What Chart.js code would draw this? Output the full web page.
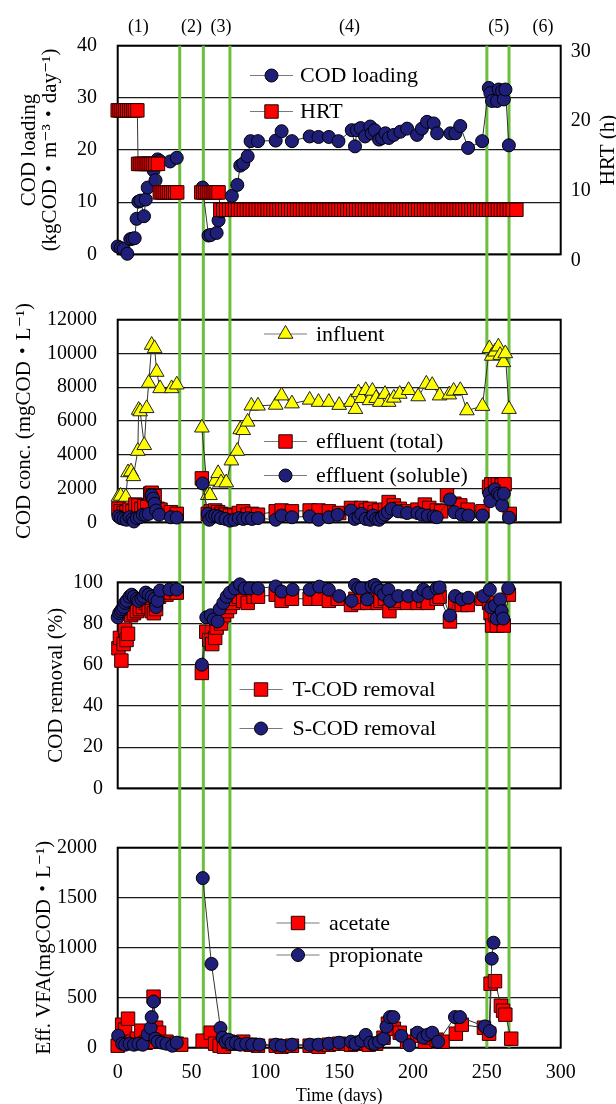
<!DOCTYPE html>
<html><head><meta charset="utf-8">
<script src="https://cdn.jsdelivr.net/npm/chart.js@4.4.1/dist/chart.umd.min.js"></script>
<style>
html,body{margin:0;padding:0;background:#fff;width:616px;height:1104px;overflow:hidden}
.panel{position:absolute;left:0;width:616px}
canvas{display:block}
</style></head><body>
<div class="panel" style="top:0px;height:287px"><canvas id="c1" width="616" height="287"></canvas></div>
<div class="panel" style="top:287px;height:268px"><canvas id="c2" width="616" height="268"></canvas></div>
<div class="panel" style="top:555px;height:260px"><canvas id="c3" width="616" height="260"></canvas></div>
<div class="panel" style="top:815px;height:289px"><canvas id="c4" width="616" height="289"></canvas></div>
<script>
// ---------------- DATA ----------------
const phaseBoundaryDays = [42, 58, 76, 250, 265];
const phaseLabels = ['(1)', '(2)', '(3)', '(4)', '(5)', '(6)'];
const phaseLabelDays = [14, 50, 70, 157, 258, 288];
const dayTicks = [0, 50, 100, 150, 200, 250, 300];
const loadTicks = [0, 10, 20, 30, 40];
const hrtTicks = [0, 10, 20, 30];
const concTicks = [0, 2000, 4000, 6000, 8000, 10000, 12000];
const removalTicks = [0, 20, 40, 60, 80, 100];
const vfaTicks = [0, 500, 1000, 1500, 2000];

// [day, COD loading kgCOD/m3/day]
const codLoading = [
 [0,1.5],[2,1.2],[4,1.0],[6.5,0.1],[8.5,2.9],[10,3.0],[11.5,3.1],[12.8,6.8],[14,10.1],[15.5,10.3],[17.8,7.3],[19,10.5],[20.3,12.8],[24.3,16.1],[25.6,14.2],[27,18.2],[28.5,17.9],[35.5,17.8],[40,18.5],
 [49,null],
 [57.5,12.8],[61.5,3.6],[63,3.7],[67,4.1],[68.3,6.5],[70,8.3],[77.3,11.2],[81,13.3],[83,17.0],[85,17.4],[88,18.8],[90,21.7],[95,21.7],
 [107,21.8],[111,23.6],[118,21.7],[130,22.6],[136,22.5],[143,22.5],[149.5,21.7],[158.5,23.8],[160.7,20.7],[162,23.8],[164.5,24.2],[167.5,22.6],[171,24.5],[172,23.2],[174,23.8],[177,22.0],[179,22.3],[181.3,23.2],[183.6,22.3],[187,22.9],[191.4,23.5],[196,24.1],[202.7,22.9],[206,24.1],[209.5,25.4],[214,25.1],[216.3,23.2],[225.3,23.2],[228.7,23.2],[232,24.6],[237.3,20.4],[246.8,21.7],
 [251.3,31.9],[252.4,30.9],[253.5,29.4],[256.9,29.4],[258,31.6],[260.3,31.3],[261.5,29.7],[262.6,31.6],[264.9,20.9]
];
// [day, HRT h]
const hrt = [
 [0,20.7],[1.3,20.7],[2.6,20.7],[3.9,20.7],[5.2,20.7],[6.5,20.7],[7.8,20.7],[9.1,20.7],[10.4,20.7],[11.7,20.7],[13.3,20.7],
 [13.8,13.0],[15.1,13.0],[16.4,13.0],[17.7,13.0],[19,13.0],[20.3,13.0],[21.6,13.0],[22.9,13.0],[24.2,13.0],[25.5,13.0],[27.3,13.0],
 [28.5,8.9],[29.8,8.9],[31.1,8.9],[32.4,8.9],[33.7,8.9],[35,8.9],[36.3,8.9],[37.6,8.9],[38.9,8.9],[40.3,8.9],
 [48,null],
 [56.6,8.9],[57.9,8.9],[59.2,8.9],[60.5,8.9],[61.8,8.9],[63.1,8.9],[64.4,8.9],[65.7,8.9],[67,8.9],[68.3,8.9],
 [69.5,6.4],[71.5,6.4],[73.5,6.4],[75.5,6.4],[77.5,6.4],[79.5,6.4],[81.5,6.4],[83.5,6.4],[85.5,6.4],[87.5,6.4],[89.5,6.4],[91.5,6.4],[93.5,6.4],[95.5,6.4],[97.5,6.4],[99.5,6.4],[101.5,6.4],[103.5,6.4],[105.5,6.4],[107.5,6.4],[109.5,6.4],[111.5,6.4],[113.5,6.4],[115.5,6.4],[117.5,6.4],[119.5,6.4],[121.5,6.4],[123.5,6.4],[125.5,6.4],[127.5,6.4],[129.5,6.4],[131.5,6.4],[133.5,6.4],[135.5,6.4],[137.5,6.4],[139.5,6.4],[141.5,6.4],[143.5,6.4],[145.5,6.4],[147.5,6.4],[149.5,6.4],[151.5,6.4],[153.5,6.4],[155.5,6.4],[157.5,6.4],[159.5,6.4],[161.5,6.4],[163.5,6.4],[165.5,6.4],[167.5,6.4],[169.5,6.4],[171.5,6.4],[173.5,6.4],[175.5,6.4],[177.5,6.4],[179.5,6.4],[181.5,6.4],[183.5,6.4],[185.5,6.4],[187.5,6.4],[189.5,6.4],[191.5,6.4],[193.5,6.4],[195.5,6.4],[197.5,6.4],[199.5,6.4],[201.5,6.4],[203.5,6.4],[205.5,6.4],[207.5,6.4],[209.5,6.4],[211.5,6.4],[213.5,6.4],[215.5,6.4],[217.5,6.4],[219.5,6.4],[221.5,6.4],[223.5,6.4],[225.5,6.4],[227.5,6.4],[229.5,6.4],[231.5,6.4],[233.5,6.4],[235.5,6.4],[237.5,6.4],[239.5,6.4],[241.5,6.4],[243.5,6.4],[245.5,6.4],[247.5,6.4],[249.5,6.4],[251.5,6.4],[253.5,6.4],[255.5,6.4],[257.5,6.4],[259.5,6.4],[261.5,6.4],[263.5,6.4],[265.5,6.4],[267.5,6.4],[270,6.4]
];
// [day, mgCOD/L]
const influent = [
 [0.5,1500],[2,1560],[5.5,1500],[7,2950],[9,3000],[10.6,2720],[13.6,4220],[14.2,6650],[15.2,6560],[18,4560],[19.6,6750],[21,8250],[23,10500],[25,10300],[26.4,8900],[28.7,7930],[36.5,7930],[40,8150],
 [49,null],
 [57,5600],[61,1600],[62.5,1600],[66,2450],[68,2900],[70,2350],[73.5,2350],[77,3650],[81,4220],[83,5500],[85,5450],[88,5950],[90.5,6900],[95,6900],
 [107,6950],[111,7500],[118,7030],[130,7250],[136,7120],[143,7120],[150,6940],[158,7120],[161,6700],[163,7690],[165,7350],[168,7820],[170.5,7220],[172.5,7780],[175,7350],[177.5,7120],[181,7590],[183.5,7120],[187,7370],[191,7600],[197,7820],[203.5,7450],[209,8200],[213,8120],[218,7500],[224.5,7560],[227.5,7780],[232,7820],[236.5,6620],[247,6880],
 [251.7,10300],[253.3,9850],[255.5,10100],[257.8,10400],[259,9900],[261.2,9470],[262.5,10000],[265,6700]
];
const effluentTotal = [
 [0.5,800],[2,650],[4,550],[6,600],[8,750],[10,650],[12,1050],[14,1000],[16,800],[18,950],[20,900],[22,1700],[23,1750],[24,1600],[25,1550],[27,800],[29,750],[36,600],[40,500],
 [49,null],
 [57,2600],[61,500],[63,650],[66,700],[68,600],[70,500],[73,450],[76,400],[79,400],[82,550],[85,650],[88,450],[91,500],[95,450],
 [107,650],[111,700],[118,650],[130,700],[136,700],[143,650],[150,550],[158,850],[161,600],[165,850],[168,700],[171,800],[174,600],[177,700],[181,750],[183.5,1200],[187,1000],[191,800],[196,650],[203,750],[208,1050],[211,850],[216,700],[219,650],[223,1600],[228,1100],[232,1000],[237,750],[247,650],
 [251.5,2100],[253,2250],[255.5,2250],[257.5,2250],[260,2200],[262,2250],[265.5,500]
];
const effluentSoluble = [
 [0.5,350],[2,250],[4,200],[6,150],[8,300],[10,180],[11,50],[13,250],[15,300],[17,450],[19,440],[21,500],[23,1600],[24,1400],[25,1100],[26,700],[28,450],[36,300],[40,280],
 [49,null],
 [57.5,2300],[61,500],[62,150],[64,350],[66,400],[68,350],[70,250],[73,200],[76,100],[79,150],[82,250],[85,200],[88,250],[91,200],[95,250],
 [107,150],[111,400],[118,300],[130,350],[136,150],[143,300],[149,450],[158,700],[160.5,200],[163,300],[165,500],[168,200],[171,150],[173,400],[175,200],[177,150],[179,300],[181,450],[183,600],[185.5,800],[190,650],[196,550],[203,550],[206,450],[210,400],[214,350],[216,300],[225,1350],[228,600],[233,450],[237.5,400],[247,400],
 [251.7,1700],[252.3,1250],[255.5,1950],[257.5,1700],[259,1600],[260.3,1000],[261.5,1700],[265,280]
];
// [day, %]
const tcodRemoval = [
 [0.5,68],[1.5,73],[2.5,62],[4,70],[5,77],[6,72],[7,75],[9,84],[11,85],[13,86],[15,87],[17,88],[19,90],[21,88],[23,86],[24.5,85],[26,87],[28,93],[33,94],[36,95],[40,95],
 [49,null],
 [57,56],[60,76],[62,72],[64,70],[66,73],[67,78],[70,80],[72,84],[74,86],[76,88],[78,90],[80,92],[82,93],[85,91],[88,90],[92,93],[95,93],
 [107,94],[111,91],[118,92],[130,92],[136,92],[143,91],[149,92],[158,89],[161,92],[163,90],[165,93],[169,90],[172,93],[174,92],[176,90],[178,91],[181,92],[184,86],[188,90],[191,91],[196,90],[203,90],[207,91],[210,90],[216,92],[218,93],[225,81],[228.5,90],[233,89],[237,89],[247,92],
 [251.5,90],[252.5,85],[253.5,79],[255.5,84],[256.8,79],[258.5,86],[261.4,79],[264.9,94]
];
const scodRemoval = [
 [0,83],[1,85],[2,86],[3,87],[4,88],[5,90],[6,91],[8,93],[9.5,94],[11,93],[13,92],[14,91],[16,92],[17.5,93],[19,95],[21,94],[23,93],[25,92],[26,88],[27,91],[28.7,96],[35,96.5],[40,96.5],
 [49,null],
 [57,60],[60,83],[63,84],[65,82],[67.7,81],[69,87],[71.5,90],[73.8,93],[76,95],[79.4,97],[82.8,99],[86,97],[89.5,97],[95,97],
 [107,98],[111,95.5],[118.5,96.4],[130,96.4],[136.5,97.9],[143,96.4],[150,93.3],[158.4,91],[160.7,98.7],[162.9,97.1],[165,97],[169,91.7],[171.9,97.9],[174.2,98.7],[175.8,97.1],[178,96],[180.3,94],[183.3,96.4],[184.4,91],[190,93.3],[196.8,93.3],[203.6,93.3],[207,96.4],[210.4,94.8],[216,97.1],[218,97.5],[225,83.9],[228.5,93.3],[233,91.7],[237.5,92.5],[247.6,93.3],
 [252,96.4],[252.8,87.8],[255.5,88.7],[256.5,82.4],[258.9,91.7],[260,86],[261.1,82.4],[264.5,97.1]
];
// [day, mgCOD/L]
const acetate = [
 [0,20],[3,230],[5,180],[7,290],[10,60],[13,90],[16,170],[19,50],[22,60],[24.3,510],[26,200],[28,150],[33,60],[40,40],[43,30],
 [50,null],
 [57.5,70],[63,150],[66,40],[69,20],[72,10],[75,60],[78,40],[81,50],[85,60],[90,30],[95,20],
 [107,20],[111,10],[118,20],[130,20],[136,10],[143,30],[150,40],[158,30],[161,40],[165,50],[170,30],[175,40],[180,100],[183,240],[187,190],[191,150],[196,60],[203,120],[208,60],[212,100],[216,80],[220,60],[229,140],[233,230],[248,200],[251.5,140],
 [252.5,640],[255.5,665],[259.5,420],[261,370],[262.5,330],[266.5,90]
];
const propionate = [
 [0.3,120],[3,40],[5,30],[8,40],[11,30],[14,40],[17,30],[20.3,134],[22.3,197],[23,306],[24.3,462],[25.6,90],[27,60],[30,50],[33,40],[37,20],[40,50],
 [50,null],
 [57.6,1696],[63.5,838],[69.6,197],[71,100],[73,60],[75,80],[77,40],[80,50],[83,30],[87,40],[91,30],[96,30],
 [107,30],[111,20],[118,30],[130,30],[136,30],[143,40],[150,50],[158,60],[161,40],[165,70],[168,128],[171,50],[174,40],[177,60],[180,90],[182,210],[184.4,306],[186.7,306],[192,119],[197.5,25],[203,150],[207,100],[210,130],[213,150],[217,60],[228.4,306],[231.8,306],[248.6,213],[252,166],
 [253.3,890],[254.5,1050]
];

// ---------------- STYLE / HELPERS ----------------
const FONT = "'Liberation Serif','DejaVu Serif','Noto Sans CJK JP',serif";
Chart.defaults.font.family = FONT;
Chart.defaults.color = '#000';

const MARKERS = {
  circle:   {pointStyle: 'circle',   pointRadius: 6.5, pointBackgroundColor: '#1f1f7a', pointBorderColor: '#000', pointBorderWidth: 1},
  square:   {pointStyle: 'rect',     pointRadius: 9.5, pointBackgroundColor: '#ff0000', pointBorderColor: '#2a0000', pointBorderWidth: 1},
  triangle: {pointStyle: 'triangle', pointRadius: 8.5, pointBackgroundColor: '#ffff00', pointBorderColor: '#222', pointBorderWidth: 1}
};
function series(label, pairs, marker, yAxisID, order) {
  return Object.assign({
    label: label,
    data: pairs.map(p => ({x: p[0], y: p[1]})),
    showLine: true, spanGaps: false, clip: false,
    borderColor: '#333', borderWidth: 1,
    yAxisID: yAxisID || 'y', order: order || 0,
    pointHoverRadius: 0
  }, MARKERS[marker]);
}

function drawMarker(ctx, ds, x, y) {
  const r = ds.pointRadius;
  ctx.fillStyle = ds.pointBackgroundColor;
  ctx.strokeStyle = ds.pointBorderColor;
  ctx.lineWidth = ds.pointBorderWidth;
  ctx.beginPath();
  if (ds.pointStyle === 'circle') {
    ctx.arc(x, y, r, 0, Math.PI * 2);
  } else if (ds.pointStyle === 'rect') {
    const s = r * Math.SQRT1_2;
    ctx.rect(x - s, y - s, 2 * s, 2 * s);
  } else {
    ctx.moveTo(x, y - r);
    ctx.lineTo(x + r * 0.866, y + r * 0.5);
    ctx.lineTo(x - r * 0.866, y + r * 0.5);
    ctx.closePath();
  }
  ctx.fill();
  ctx.stroke();
}

const decor = {
  id: 'decor',
  beforeDatasetsDraw(chart, args, o) {
    const ctx = chart.ctx, a = chart.chartArea, x = chart.scales.x;
    ctx.save();
    ctx.strokeStyle = '#000';
    ctx.lineWidth = 2;
    ctx.strokeRect(a.left, a.top, a.right - a.left, a.bottom - a.top);
    const top = o.linesFromArea ? a.top : 0;
    const bottom = o.linesToArea ? a.bottom : chart.height;
    ctx.strokeStyle = '#6cbf3c';
    ctx.lineWidth = 3;
    phaseBoundaryDays.forEach(d => {
      const px = x.getPixelForValue(d);
      ctx.beginPath(); ctx.moveTo(px, top); ctx.lineTo(px, bottom); ctx.stroke();
    });
    ctx.restore();
  },
  afterDraw(chart, args, o) {
    const ctx = chart.ctx, x = chart.scales.x;
    ctx.save();
    const items = o.legend || [];
    for (let i = 0; i < items.length; i++) {
      const it = items[i];
      const ds = chart.data.datasets[it.dataset];
      ctx.strokeStyle = '#7a7a7a';
      ctx.lineWidth = 1;
      ctx.beginPath(); ctx.moveTo(it.x - 21.5, it.y); ctx.lineTo(it.x + 21.5, it.y); ctx.stroke();
      drawMarker(ctx, ds, it.x, it.y);
      ctx.fillStyle = '#000';
      ctx.font = '22px ' + FONT;
      ctx.textAlign = 'left';
      ctx.textBaseline = 'middle';
      ctx.fillText(ds.label, it.textX, it.y + 1);
    }
    if (o.phaseLabels) {
      ctx.fillStyle = '#000';
      ctx.font = '18px ' + FONT;
      ctx.textAlign = 'center';
      ctx.textBaseline = 'middle';
      phaseLabels.forEach((t, i) => ctx.fillText(t, x.getPixelForValue(phaseLabelDays[i]), o.phaseLabelY));
    }
    if (o.rightTitle) {
      ctx.translate(o.rightTitle.x, (chart.chartArea.top + chart.chartArea.bottom) / 2);
      ctx.rotate(-Math.PI / 2);
      ctx.fillStyle = '#000';
      ctx.font = '21px ' + FONT;
      ctx.textAlign = 'center';
      ctx.textBaseline = 'middle';
      ctx.fillText(o.rightTitle.text, 0, 0);
    }
    ctx.restore();
  }
};
Chart.register(decor);

const plainTick = v => String(v);

function xScale(showLabels) {
  return {
    type: 'linear', min: 0, max: 300, display: showLabels,
    afterBuildTicks: s => { s.ticks = dayTicks.map(v => ({value: v})); },
    grid: {display: false, drawTicks: false},
    border: {display: false},
    ticks: {font: {size: 20}, padding: 13, maxRotation: 0, callback: plainTick},
    title: {display: showLabels, text: 'Time (days)', font: {size: 18, lineHeight: 0.9}, padding: {top: 0, bottom: 0}},
    afterFit: s => { if (showLabels) s.height = 56.3; }
  };
}
function yScale(min, max, tickList, title, titlePad, titleLH, tickPad) {
  return {
    type: 'linear', position: 'left', min: min, max: max,
    afterBuildTicks: s => { s.ticks = tickList.map(v => ({value: v})); },
    grid: {color: '#1a1a1a', lineWidth: 1.2, drawTicks: false},
    border: {display: false},
    ticks: {font: {size: 20}, padding: tickPad, callback: plainTick},
    title: {display: true, text: title, font: {size: 21, lineHeight: titleLH}, padding: {top: titlePad, bottom: 0}},
    afterFit: s => { s.width = 117.7; }
  };
}
function baseOptions(padding, scales, decorOpts) {
  return {
    responsive: false, animation: false, devicePixelRatio: 1, events: [],
    layout: {padding: padding},
    scales: scales,
    plugins: {legend: {display: false}, tooltip: {enabled: false}, decor: decorOpts}
  };
}

// ---------------- PANEL 1 ----------------
new Chart(document.getElementById('c1'), {
  type: 'scatter',
  data: {datasets: [
    series('COD loading', codLoading, 'circle', 'y', 1),
    series('HRT', hrt, 'square', 'y1', 0)
  ]},
  options: baseOptions({top: 45.7, bottom: 28, left: 0, right: 0}, {
    x: xScale(false),
    y: yScale(0, 40, loadTicks, ['COD loading', '(kgCOD・m⁻³・day⁻¹)'], 19.3, 0.98, 20.7),
    y1: {
      type: 'linear', position: 'right', min: 0, max: 30,
      afterBuildTicks: s => { s.ticks = hrtTicks.map(v => ({value: v})); },
      grid: {display: false, drawTicks: false},
      border: {display: false},
      ticks: {font: {size: 20}, padding: 10, labelOffset: 6, callback: plainTick},
      afterFit: s => { s.width = 55.3; }
    }
  }, {
    linesFromArea: true, linesToArea: false,
    legend: [{dataset: 0, x: 271.5, y: 75.5, textX: 300}, {dataset: 1, x: 271.5, y: 111.5, textX: 300}],
    phaseLabels: true, phaseLabelY: 27,
    rightTitle: {text: 'HRT (h)', x: 608}
  })
});

// ---------------- PANEL 2 ----------------
new Chart(document.getElementById('c2'), {
  type: 'scatter',
  data: {datasets: [
    series('influent', influent, 'triangle', 'y', 2),
    series('effluent (total)', effluentTotal, 'square', 'y', 1),
    series('effluent (soluble)', effluentSoluble, 'circle', 'y', 0)
  ]},
  options: baseOptions({top: 28, bottom: 26.7, left: 0, right: 55.3}, {
    x: xScale(false),
    y: yScale(0, 12000, concTicks, 'COD conc. (mgCOD・L⁻¹)', 11.8, 1.2, 20.7)
  }, {
    linesFromArea: false, linesToArea: false,
    legend: [{dataset: 0, x: 285.5, y: 47, textX: 316}, {dataset: 1, x: 285.5, y: 154.5, textX: 316}, {dataset: 2, x: 285.5, y: 188.5, textX: 316}]
  })
});

// ---------------- PANEL 3 ----------------
new Chart(document.getElementById('c3'), {
  type: 'scatter',
  data: {datasets: [
    series('T-COD removal', tcodRemoval, 'square', 'y', 1),
    series('S-COD removal', scodRemoval, 'circle', 'y', 0)
  ]},
  options: baseOptions({top: 27.3, bottom: 19.3, left: 0, right: 55.3}, {
    x: xScale(false),
    y: yScale(0, 100, removalTicks, 'COD removal (%)', 43.4, 1.2, 14.7)
  }, {
    linesFromArea: false, linesToArea: false,
    legend: [{dataset: 0, x: 261, y: 134.5, textX: 292.5}, {dataset: 1, x: 261, y: 173.5, textX: 292.5}]
  })
});

// ---------------- PANEL 4 ----------------
new Chart(document.getElementById('c4'), {
  type: 'scatter',
  data: {datasets: [
    series('acetate', acetate, 'square', 'y', 1),
    series('propionate', propionate, 'circle', 'y', 0)
  ]},
  options: baseOptions({top: 19.3, bottom: 0, left: 0, right: 55.3}, {
    x: xScale(true),
    y: yScale(0, 2000, vfaTicks, 'Eff. VFA(mgCOD・L⁻¹)', 31.4, 1.2, 20.7)
  }, {
    linesFromArea: false, linesToArea: true,
    legend: [{dataset: 0, x: 298, y: 108, textX: 329}, {dataset: 1, x: 298, y: 140, textX: 329}]
  })
});
</script>
</body></html>
